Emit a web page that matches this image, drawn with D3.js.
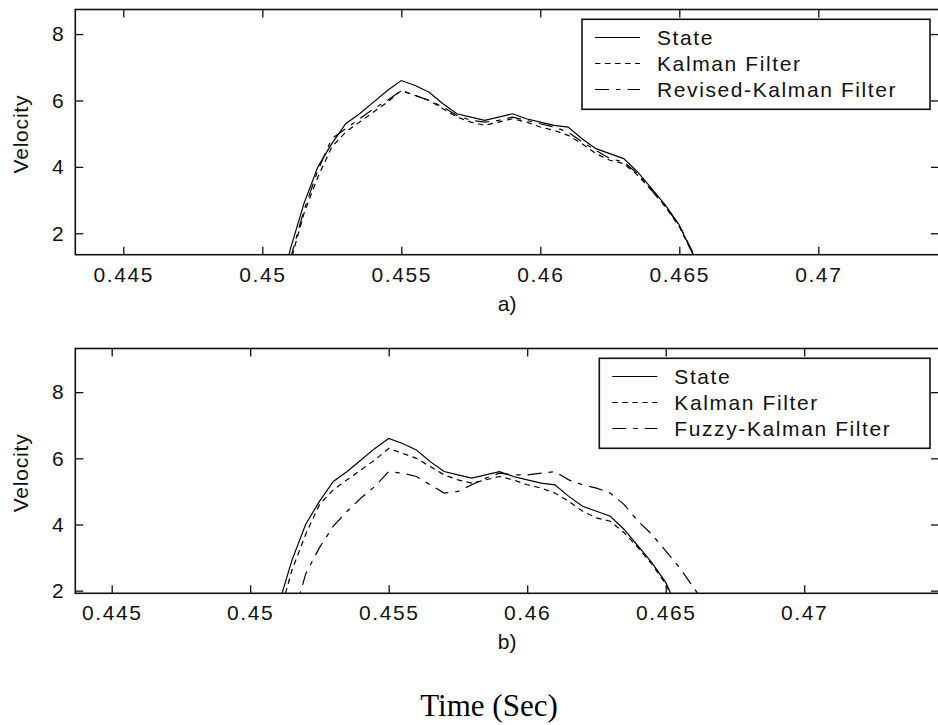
<!DOCTYPE html>
<html>
<head>
<meta charset="utf-8">
<script src="https://cdn.jsdelivr.net/npm/d3@7/dist/d3.min.js"></script>
<style>
  html, body { margin: 0; padding: 0; background: #ffffff; }
  svg { display: block; }
</style>
</head>
<body>
<svg id="chart" width="938" height="725"></svg>
<script>
// ---------- data ----------
const time = [0.4500, 0.4505, 0.4510, 0.4515, 0.4520, 0.4525, 0.4530, 0.4535, 0.4540, 0.4545,
              0.4550, 0.4555, 0.4560, 0.4565, 0.4570, 0.4575, 0.4580, 0.4585, 0.4590, 0.4595,
              0.4600, 0.4605, 0.4610, 0.4615, 0.4620, 0.4625, 0.4630, 0.4635, 0.4640, 0.4645,
              0.4650, 0.4655, 0.4660, 0.4665];
const stateVals   = [-2.5, -0.5, 1.5, 2.9, 4.0, 4.7, 5.3, 5.6, 5.95, 6.3,
                     6.6, 6.45, 6.25, 5.9, 5.6, 5.5, 5.4, 5.5, 5.6, 5.45,
                     5.35, 5.25, 5.2, 4.85, 4.55, 4.4, 4.25, 3.85, 3.35, 2.85,
                     2.25, 1.35, 0.6, 0.1];
const kalmanVals  = [-2.8, -0.8, 1.1, 2.6, 3.7, 4.6, 5.05, 5.35, 5.65, 5.95,
                     6.3, 6.15, 6.0, 5.75, 5.5, 5.35, 5.25, 5.35, 5.45, 5.35,
                     5.2, 5.1, 4.95, 4.7, 4.4, 4.2, 4.1, 3.75, 3.3, 2.8,
                     2.2, 1.35, 0.6, -0.2];
const revisedVals = [-2.6, -0.7, 1.2, 2.7, 3.9, 4.85, 5.15, 5.45, 5.75, 6.0,
                     6.3, 6.15, 6.0, 5.8, 5.55, 5.4, 5.35, 5.4, 5.5, 5.4,
                     5.3, 5.2, 5.05, 4.75, 4.5, 4.25, 4.15, 3.8, 3.3, 2.8,
                     2.25, 1.4, 0.65, -0.1];
const fuzzyVals   = [-3.5, -2.0, -0.4, 1.0, 2.5, 3.3, 3.95, 4.4, 4.8, 5.15,
                     5.6, 5.55, 5.45, 5.2, 4.95, 5.0, 5.2, 5.4, 5.55, 5.5,
                     5.5, 5.55, 5.6, 5.35, 5.2, 5.1, 4.95, 4.6, 4.1, 3.7,
                     3.2, 2.7, 2.1, 1.5];

const xTicks = [0.445, 0.45, 0.455, 0.46, 0.465, 0.47];
const xTickLabels = ["0.445", "0.45", "0.455", "0.46", "0.465", "0.47"];
const yTicks = [2, 4, 6, 8];
const yLabel = "Velocity";
const xLabel = "Time (Sec)";
const panelLabels = ["a)", "b)"];
const legendTop = ["State", "Kalman Filter", "Revised-Kalman Filter"];
const legendBottom = ["State", "Kalman Filter", "Fuzzy-Kalman Filter"];

// ---------- layout ----------
const svg = d3.select("#chart");
const dashes = ["none", "5.5,4.5", "14,7,4.5,7"];

const panels = [
  { top: 9.5, bottom: 254.7, left: 75.3, right: 939,
    xDom: [0.443273, 0.474342], yDom: [1.355, 8.74],
    series: [stateVals, kalmanVals, revisedVals], legend: legendTop,
    legBox: [582, 19.3, 930, 109.3], label: panelLabels[0] },
  { top: 348.5, bottom: 593.3, left: 75.3, right: 939,
    xDom: [0.443686, 0.474866], yDom: [1.92, 9.32],
    series: [stateVals, kalmanVals, fuzzyVals], legend: legendBottom,
    legBox: [599.3, 358.3, 930, 448.3], label: panelLabels[1] }
];

const tickFont = "'Liberation Sans', Arial, sans-serif";

panels.forEach((p, pi) => {
  const x = d3.scaleLinear().domain(p.xDom).range([p.left, p.right]);
  const y = d3.scaleLinear().domain(p.yDom).range([p.bottom, p.top]);
  const g = svg.append("g");

  const clipId = "clip" + pi;
  svg.append("clipPath").attr("id", clipId)
    .append("rect").attr("x", p.left).attr("y", p.top)
    .attr("width", p.right - p.left).attr("height", p.bottom - p.top);

  // curves
  const line = d3.line().x((d, i) => x(time[i])).y(d => y(d));
  const cg = g.append("g").attr("clip-path", `url(#${clipId})`);
  p.series.forEach((s, si) => {
    cg.append("path").datum(s)
      .attr("d", line)
      .attr("fill", "none")
      .attr("stroke", "#000")
      .attr("stroke-width", 1.2)
      .attr("stroke-dasharray", dashes[si]);
  });

  // axes (ticks inward, on all four sides)
  const tl = 8;
  const axBottom = d3.axisBottom(x).tickValues(xTicks).tickSizeInner(-tl).tickSizeOuter(0)
    .tickFormat((d, i) => xTickLabels[i]).tickPadding(15);
  const axTop = d3.axisTop(x).tickValues(xTicks).tickSizeInner(-tl).tickSizeOuter(0).tickFormat("");
  const axLeft = d3.axisLeft(y).tickValues(yTicks).tickSizeInner(-tl).tickSizeOuter(0).tickPadding(20);
  const axRight = d3.axisRight(y).tickValues(yTicks).tickSizeInner(-tl).tickSizeOuter(0).tickFormat("");

  const gb = g.append("g").attr("transform", `translate(0,${p.bottom})`).call(axBottom);
  const gt = g.append("g").attr("transform", `translate(0,${p.top})`).call(axTop);
  const gl = g.append("g").attr("transform", `translate(${p.left},0)`).call(axLeft);
  const gr = g.append("g").attr("transform", `translate(${p.right},0)`).call(axRight);

  [gb, gt, gl, gr].forEach(a => {
    a.select(".domain").remove();
    a.selectAll(".tick line").attr("stroke", "#111").attr("stroke-width", 1.3);
    a.selectAll("text").attr("fill", "#111")
      .style("font-family", tickFont).style("font-size", "21px")
      .style("letter-spacing", "1.6px");
  });
  gb.selectAll(".tick text").attr("dy", "0.71em").attr("y", 12);
  gl.selectAll(".tick text").attr("x", -10);

  // frame
  g.append("rect").attr("x", p.left).attr("y", p.top)
    .attr("width", p.right - p.left).attr("height", p.bottom - p.top)
    .attr("fill", "none").attr("stroke", "#111").attr("stroke-width", 1.6);

  // y label
  g.append("text")
    .attr("transform", `translate(28,${(p.top + p.bottom) / 2 + 2}) rotate(-90)`)
    .attr("text-anchor", "middle")
    .style("font-family", tickFont).style("font-size", "21px")
    .style("letter-spacing", "0.8px")
    .attr("fill", "#111")
    .text(yLabel);

  // panel label
  g.append("text")
    .attr("x", (p.left + p.right) / 2).attr("y", p.bottom + 56)
    .attr("text-anchor", "middle")
    .style("font-family", tickFont).style("font-size", "21px")
    .attr("fill", "#111")
    .text(p.label);

  // legend
  const [lx0, ly0, lx1, ly1] = p.legBox;
  const lg = g.append("g");
  lg.append("rect").attr("x", lx0).attr("y", ly0)
    .attr("width", lx1 - lx0).attr("height", ly1 - ly0)
    .attr("fill", "#fff").attr("stroke", "#111").attr("stroke-width", 1.6);
  p.legend.forEach((name, i) => {
    const by = ly0 + 25.7 + i * 26;
    lg.append("line")
      .attr("x1", lx0 + 13).attr("x2", lx0 + 58)
      .attr("y1", by - 7.5).attr("y2", by - 7.5)
      .attr("stroke", "#000").attr("stroke-width", 1.2)
      .attr("stroke-dasharray", dashes[i]);
    lg.append("text")
      .attr("x", lx0 + 75).attr("y", by)
      .style("font-family", tickFont).style("font-size", "21px")
      .style("letter-spacing", "1.6px")
      .attr("fill", "#111")
      .text(name);
  });
});

// common x label
svg.append("text")
  .attr("x", 489).attr("y", 716)
  .attr("text-anchor", "middle")
  .style("font-family", "'Liberation Serif', 'Times New Roman', serif")
  .style("font-size", "31px")
  .attr("fill", "#000")
  .text(xLabel);
</script>
</body>
</html>
